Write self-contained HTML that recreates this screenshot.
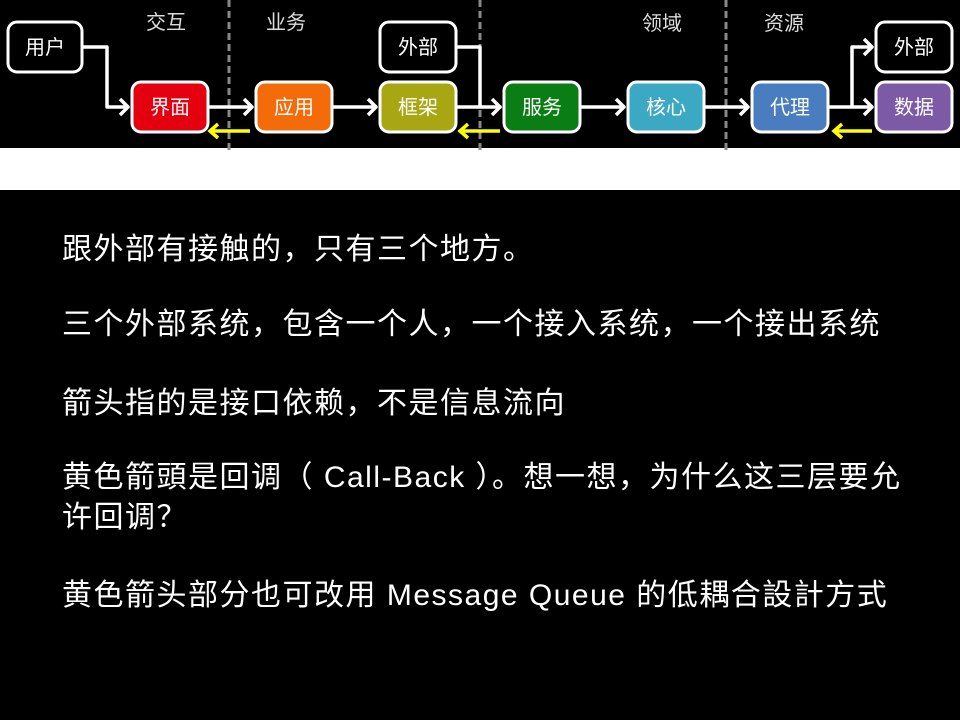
<!DOCTYPE html>
<html><head><meta charset="utf-8"><style>
html,body{margin:0;padding:0;background:#000;}
body{width:960px;height:720px;position:relative;overflow:hidden;font-family:"Liberation Sans","Noto Sans CJK SC",sans-serif;}
.t{position:absolute;left:62px;color:#fff;font-size:30px;line-height:40px;letter-spacing:1.5px;white-space:nowrap;}
</style></head><body>
<svg width="960" height="190" style="position:absolute;left:0;top:0">
<rect x="0" y="0" width="960" height="148" fill="#000"/>
<rect x="0" y="148" width="960" height="42" fill="#fff"/>
<g stroke="#888" stroke-width="3" stroke-dasharray="7,4">
<line x1="229" y1="0" x2="229" y2="150"/><line x1="480" y1="0" x2="480" y2="150"/><line x1="726" y1="0" x2="726" y2="150"/>
</g>
<g font-size="20" fill="#ddd" font-family="Liberation Sans,Noto Sans CJK SC,sans-serif">
<text x="146" y="29">交互</text><text x="266" y="29">业务</text><text x="642" y="30">领域</text><text x="764" y="30">资源</text>
</g>
<g stroke="#fff" stroke-width="3.5" fill="none" stroke-linejoin="round">
<polyline points="82,47 107,47 107,107 128,107"/><polyline points="120,99 128,107 120,115"/>
<line x1="208" y1="107" x2="252" y2="107"/><polyline points="244,99 252,107 244,115"/>
<line x1="332" y1="107" x2="376" y2="107"/><polyline points="368,99 376,107 368,115"/>
<polyline points="456,47 480,47 480,107 500,107 456,107"/><polyline points="492,99 500,107 492,115"/>
<line x1="580" y1="107" x2="624" y2="107"/><polyline points="616,99 624,107 616,115"/>
<line x1="704" y1="107" x2="748" y2="107"/><polyline points="740,99 748,107 740,115"/>
<line x1="828" y1="107" x2="872" y2="107"/><polyline points="864,99 872,107 864,115"/>
<polyline points="852,107 852,47 872,47"/><polyline points="864,39 872,47 864,55"/>
</g>
<g stroke="#ff0" stroke-width="3.5" fill="none">
<line x1="250" y1="131" x2="210" y2="131"/><polyline points="218,124 210,131 218,138"/>
<line x1="500" y1="131" x2="460" y2="131"/><polyline points="468,124 460,131 468,138"/>
<line x1="872" y1="131" x2="834" y2="131"/><polyline points="842,124 834,131 842,138"/>
</g>
<g stroke="#fff" stroke-width="3">
<rect x="8" y="22" width="74" height="50" rx="9" fill="#000"/>
<rect x="132" y="82" width="76" height="50" rx="9" fill="#e50010"/>
<rect x="256" y="82" width="76" height="50" rx="9" fill="#f46b0a"/>
<rect x="380" y="22" width="76" height="50" rx="9" fill="#000"/>
<rect x="380" y="82" width="76" height="50" rx="9" fill="#a8a612"/>
<rect x="504" y="82" width="76" height="50" rx="9" fill="#0a7e14"/>
<rect x="628" y="82" width="76" height="50" rx="9" fill="#3ba8c4"/>
<rect x="752" y="82" width="76" height="50" rx="9" fill="#4a7cc0"/>
<rect x="876" y="22" width="76" height="50" rx="9" fill="#000"/>
<rect x="876" y="82" width="76" height="50" rx="9" fill="#7c5aa6"/>
</g>
<g font-size="20" fill="#fff" text-anchor="middle" font-family="Liberation Sans,Noto Sans CJK SC,sans-serif">
<text x="45" y="54">用户</text><text x="170" y="114">界面</text><text x="294" y="114">应用</text>
<text x="418" y="54">外部</text><text x="418" y="114">框架</text><text x="542" y="114">服务</text>
<text x="666" y="114">核心</text><text x="790" y="114">代理</text><text x="914" y="54">外部</text><text x="914" y="114">数据</text>
</g>
</svg>
<div class="t" style="top:230px">跟外部有接触的，只有三个地方。</div>
<div class="t" style="top:305px">三个外部系统，包含一个人，一个接入系统，一个接出系统</div>
<div class="t" style="top:384px">箭头指的是接口依赖，不是信息流向</div>
<div class="t" style="top:458px">黄色箭頭是回调（ Call-Back ）。想一想，为什么这三层要允<br>许回调？</div>
<div class="t" style="top:576px">黄色箭头部分也可改用 Message Queue 的低耦合設計方式</div>
</body></html>
